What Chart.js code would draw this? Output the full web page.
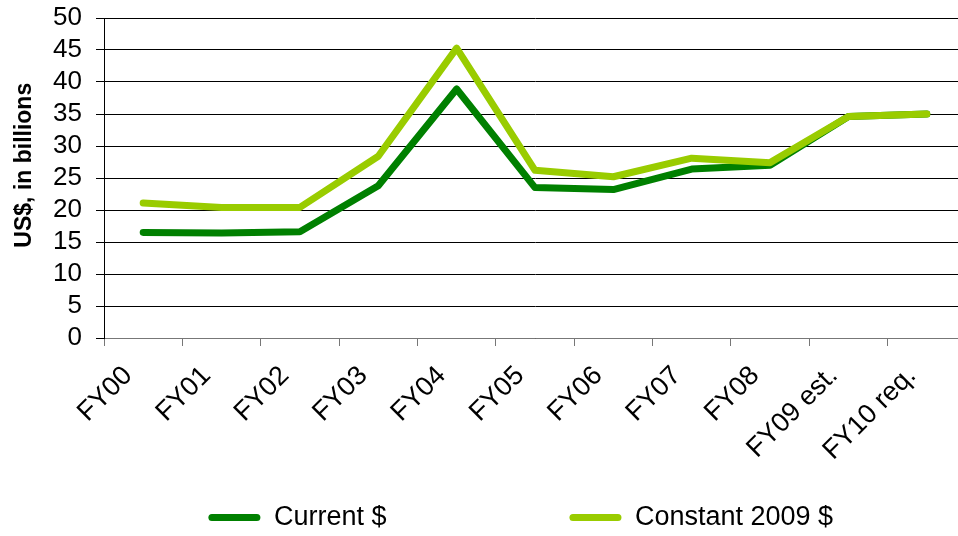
<!DOCTYPE html>
<html>
<head>
<meta charset="utf-8">
<script src="https://cdn.jsdelivr.net/npm/chart.js@4"></script>
<style>
  html, body { margin: 0; padding: 0; background: #fff; overflow: hidden; width: 958px; height: 536px; }
  #wrap { position: absolute; left: 0; top: 0; width: 968px; height: 541px; }
</style>
</head>
<body>
<div id="wrap"><canvas id="c"></canvas></div>
<script>
const categories = ['FY00', 'FY01', 'FY02', 'FY03', 'FY04', 'FY05', 'FY06', 'FY07', 'FY08', 'FY09 est.', 'FY10 req.'];
const currentDollars = [16.5, 16.4, 16.6, 23.8, 38.9, 23.5, 23.2, 26.4, 27.0, 34.6, 35.0];
const constant2009 = [21.1, 20.4, 20.4, 28.4, 45.3, 26.2, 25.2, 28.1, 27.4, 34.6, 35.0];
const seriesNames = ['Current $', 'Constant 2009 $'];
const yTitle = 'US$, in billions';

const FONT = "'Liberation Sans', Arial, sans-serif";

new Chart(document.getElementById('c'), {
  type: 'line',
  data: {
    labels: categories,
    datasets: [
      { label: seriesNames[0], data: currentDollars, borderColor: '#008000', backgroundColor: '#008000',
        borderWidth: 7, pointRadius: 0, tension: 0, borderCapStyle: 'round', borderJoinStyle: 'round', order: 1 },
      { label: seriesNames[1], data: constant2009, borderColor: '#99CC00', backgroundColor: '#99CC00',
        borderWidth: 7, pointRadius: 0, tension: 0, borderCapStyle: 'round', borderJoinStyle: 'round', order: 0 }
    ]
  },
  options: {
    responsive: true,
    maintainAspectRatio: false,
    animation: false,
    devicePixelRatio: 1,
    layout: { autoPadding: false, padding: { top: 18, right: 2, bottom: 0, left: 0 } },
    plugins: {
      tooltip: { enabled: false },
      legend: {
        position: 'bottom',
        onClick: () => {},
        labels: {
          font: { family: FONT, size: 27 },
          color: '#000',
          boxWidth: 52,
          boxHeight: 7,
          padding: 10,
          useBorderRadius: true,
          borderRadius: 3.5,
          generateLabels: (chart) => {
            const ds = chart.data.datasets;
            const item = (i) => ({ text: ds[i].label, fillStyle: ds[i].borderColor, strokeStyle: ds[i].borderColor,
              lineWidth: 0, hidden: false, datasetIndex: i, borderRadius: 3.5, fontColor: '#000' });
            const spacer = (t) => ({ text: t, fillStyle: 'rgba(0,0,0,0)', strokeStyle: 'rgba(0,0,0,0)',
              lineWidth: 0, hidden: false, fontColor: 'rgba(0,0,0,0)' });
            return [spacer(''), item(0), spacer(' '.repeat(13)), item(1)];
          }
        }
      }
    },
    scales: {
      x: {
        offset: true,
        grid: { offset: true, drawOnChartArea: false, drawTicks: true, tickLength: 8, color: '#777', lineWidth: 1 },
        border: { display: true, color: '#777', width: 1 },
        ticks: { autoSkip: false, maxRotation: 45, minRotation: 45, padding: 14, labelOffset: -15, color: '#000',
          font: { family: FONT, size: 27 } },
        afterFit: (s) => { s.height = 156; }
      },
      y: {
        min: 0, max: 50,
        grid: { color: '#000', lineWidth: 1, tickLength: 8, drawTicks: true },
        border: { display: true, color: '#000', width: 1 },
        ticks: { stepSize: 5, autoSkip: false, padding: 14, color: '#000',
          font: { family: FONT, size: 26, lineHeight: 0.3 } },
        title: { display: true, text: '    ' + yTitle, color: '#000', padding: { top: 11, bottom: 0 },
          font: { family: FONT, size: 23, weight: 'bold' } },
        afterFit: (s) => { s.width = 104; }
      }
    }
  }
});
</script>
</body>
</html>
